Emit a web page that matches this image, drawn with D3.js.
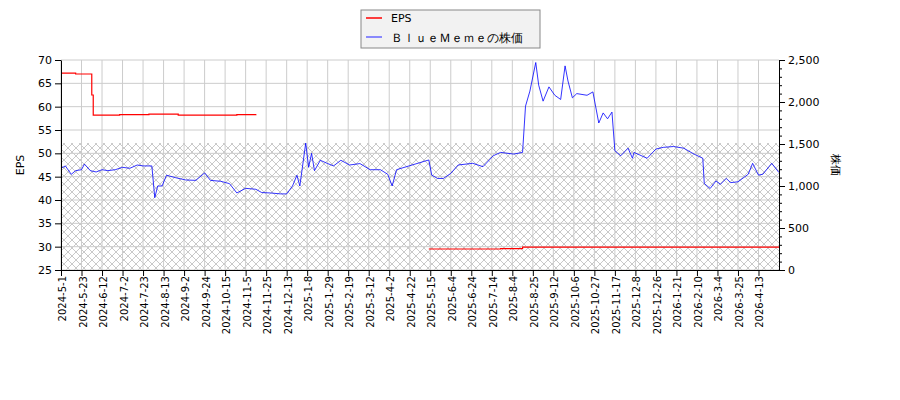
<!DOCTYPE html>
<html><head><meta charset="utf-8">
<script src="https://cdn.jsdelivr.net/npm/d3@7"></script>
<style>body{margin:0;background:#fff}text{font-family:"DejaVu Sans",sans-serif}</style>
</head><body><svg id="c" width="900" height="400"></svg>
<script>
const tickLabels=["2024-5-1","2024-5-23","2024-6-12","2024-7-2","2024-7-23","2024-8-13","2024-9-2","2024-9-24","2024-10-15","2024-11-5","2024-11-25","2024-12-13","2025-1-8","2025-1-29","2025-2-19","2025-3-12","2025-4-2","2025-4-22","2025-5-15","2025-6-4","2025-6-24","2025-7-14","2025-8-4","2025-8-25","2025-9-12","2025-10-6","2025-10-27","2025-11-17","2025-12-8","2025-12-26","2026-1-21","2026-2-10","2026-3-4","2026-3-25","2026-4-13"];
const daysPerTick=14;
const lastDay=490;
const priceDay=[0,3,7,10,14,16,20,24,28,32,37,42,47,52,56,62,64,66,69,72,78,85,92,98,102,109,115,120,126,133,137,143,150,154,158,161,163,167,169,171,173,177,182,186,191,197,204,211,218,223,226,229,232,251,253,257,261,266,271,281,288,295,300,309,315,317,320,324,326,329,333,337,341,344,346,349,352,359,363,367,370,373,376,378,382,387,390,391,400,406,411,418,425,432,438,439,443,447,450,454,457,462,469,472,476,479,485,490];
const price=[1211,1239,1139,1183,1194,1261,1183,1167,1194,1183,1194,1222,1211,1250,1239,1239,861,1000,1000,1128,1100,1072,1067,1156,1067,1056,1028,917,972,961,922,917,906,906,1000,1128,1000,1511,1222,1389,1183,1306,1267,1239,1306,1250,1267,1194,1194,1139,1000,1194,1210,1310,1130,1090,1090,1150,1250,1270,1230,1360,1400,1380,1400,1950,2130,2470,2200,2010,2180,2080,2030,2430,2250,2050,2100,2080,2120,1750,1870,1800,1880,1420,1360,1450,1330,1400,1330,1440,1460,1470,1450,1380,1330,1030,970,1060,1020,1090,1040,1050,1140,1270,1130,1140,1270,1160];
const epsDay=[0,10,21,22,40,60,80,100,120,133,134,251,300,315,490];
const eps=[67.2,67.0,62.5,58.2,58.3,58.4,58.2,58.2,58.3,58.4,null,29.5,29.6,29.9,29.9];
const hatchTopEps=52.2;
const epsTicks=d3.range(25,71,5), priceTicks=d3.range(0,2501,500);

const svg=d3.select("#c");
const L=61,R=779,T=60,B=270;
const x=d3.scaleLinear().domain([0,lastDay]).range([L,R]);
const yE=d3.scaleLinear().domain([25,70]).range([B,T]);
const yP=d3.scaleLinear().domain([0,2500]).range([B,T]);
const defs=svg.append("defs");
const pat=defs.append("pattern").attr("id","h").attr("patternUnits","userSpaceOnUse").attr("width",8).attr("height",8);
pat.append("path").attr("d","M0,0L8,8M8,0L0,8").attr("stroke","#bbb").attr("stroke-width",0.8);
svg.append("rect").attr("x",L).attr("y",yE(hatchTopEps)).attr("width",R-L).attr("height",B-yE(hatchTopEps)).attr("fill","url(#h)");
const g=svg.append("g");
tickLabels.forEach((t,i)=>g.append("line").attr("x1",x(i*daysPerTick)).attr("x2",x(i*daysPerTick)).attr("y1",T).attr("y2",B).attr("stroke","#ccc"));
epsTicks.forEach(v=>g.append("line").attr("x1",L).attr("x2",R).attr("y1",yE(v)).attr("y2",yE(v)).attr("stroke","#ccc"));
svg.append("path").datum(price.map((p,i)=>[priceDay[i],p])).attr("fill","none").attr("stroke","#0000ff").attr("stroke-width",0.8)
 .attr("d",d3.line().x(d=>x(d[0])).y(d=>yP(d[1])));
svg.append("path").datum(eps.map((e,i)=>[epsDay[i],e])).attr("fill","none").attr("stroke","#ff0000").attr("stroke-width",1.2)
 .attr("d",d3.line().defined(d=>d[1]!=null).curve(d3.curveStepAfter).x(d=>x(d[0])).y(d=>yE(d[1])));
svg.append("rect").attr("x",L).attr("y",T).attr("width",R-L).attr("height",B-T).attr("fill","none").attr("stroke","none");
const ax=svg.append("g").attr("transform",`translate(0,${B})`).call(d3.axisBottom(x).tickValues(tickLabels.map((t,i)=>i*daysPerTick)).tickFormat((d,i)=>tickLabels[i]).tickSizeOuter(0));
ax.selectAll("text").attr("transform","rotate(-90)").attr("text-anchor","end").attr("dx","-0.6em").attr("dy","-0.45em").attr("font-size",10);
svg.append("g").attr("transform",`translate(${L},0)`).call(d3.axisLeft(yE).tickValues(epsTicks).tickSizeOuter(0)).selectAll("text").attr("font-size",11);
svg.append("g").attr("transform",`translate(${R},0)`).call(d3.axisRight(yP).tickValues(d3.range(0,2501,100)).tickSize(3).tickFormat("")).select(".domain").remove();
svg.append("g").attr("transform",`translate(${R},0)`).call(d3.axisRight(yP).tickValues(priceTicks).tickSizeOuter(0)).selectAll("text").attr("font-size",11);
svg.selectAll(".domain").attr("stroke","#000");
svg.append("text").attr("transform","translate(24,165) rotate(-90)").attr("text-anchor","middle").attr("font-size",11).text("EPS");
svg.append("text").attr("transform","translate(832,165) rotate(90)").attr("text-anchor","middle").attr("font-size",11).text("株価");
const lg=svg.append("g");
lg.append("rect").attr("x",361).attr("y",10).attr("width",179).attr("height",38).attr("fill","#f2f2f2").attr("stroke","#888");
lg.append("line").attr("x1",366).attr("x2",382).attr("y1",18).attr("y2",18).attr("stroke","#ff0000").attr("stroke-width",1.5);
lg.append("line").attr("x1",366).attr("x2",382).attr("y1",37).attr("y2",37).attr("stroke","#6666ff").attr("stroke-width",1.5);
lg.append("text").attr("x",391).attr("y",22).attr("font-size",11).text("EPS");
lg.append("text").attr("x",391).attr("y",42).attr("font-size",12).attr("font-family","Noto Sans CJK JP").text("ＢｌｕｅＭｅｍｅの株価");
</script></body></html>
